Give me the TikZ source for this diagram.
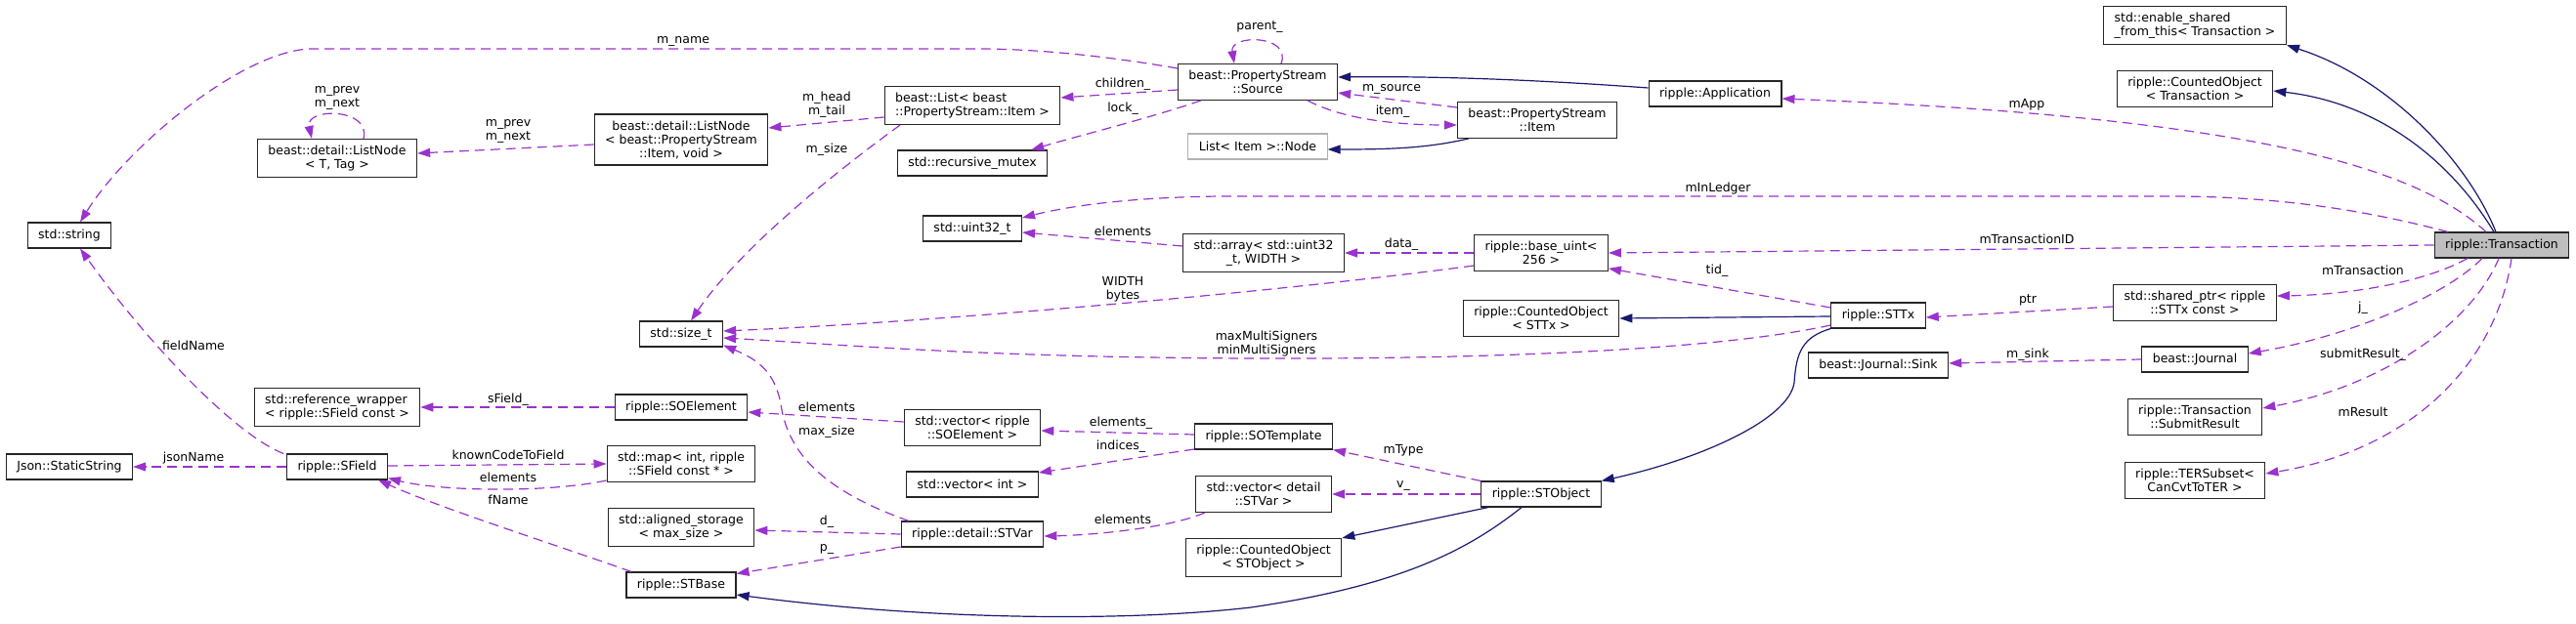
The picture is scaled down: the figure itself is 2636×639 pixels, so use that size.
\documentclass[tikz,border=0pt]{standalone}
\usepackage{fontspec}
\setmainfont{DejaVu Sans}
\usetikzlibrary{arrows.meta}

\definecolor{usecol}{HTML}{9A32CD}
\definecolor{isacol}{HTML}{191970}
\newcommand\dgfont{\fontsize{12.5}{14}\selectfont}

\tikzset{
  cls/.style={draw=black!85, line width=1.1pt, fill=white, font=\dgfont, align=center,
    inner xsep=11pt, inner ysep=6.5pt, minimum height=26pt},
  clsleft/.style={cls, align=left},
  clsext/.style={cls, draw=black!30},
  clsroot/.style={cls, fill=black!25},
  usage/.style={draw=usecol, line width=1.2pt, dash pattern=on 10pt off 6pt,
    -{Triangle[length=13pt,width=9pt]}},
  inherit/.style={draw=isacol, line width=1.2pt, -{Triangle[length=13pt,width=9pt]}},
  lbl/.style={font=\dgfont, align=center, inner sep=0pt},
}

\begin{document}
\begin{tikzpicture}[x=1pt,y=-1pt]
\useasboundingbox (0,0) rectangle (2636,639);

% classes
\node[clsroot] (tx) at (2560,251) {ripple::Transaction};
\node[clsleft] (esft) at (2246,26) {std::enable\_shared\\\_from\_this< Transaction >};
\node[cls] (cotx) at (2246,91) {ripple::CountedObject\\< Transaction >};
\node[cls] (app) at (1755,96) {ripple::Application};
\node[cls] (src) at (1287,84) {beast::PropertyStream\\::Source};
\node[cls] (pitem) at (1573,123) {beast::PropertyStream\\::Item};
\node[clsext] (lnode) at (1287,150) {List< Item >::Node};
\node[clsleft] (blist) at (995,108) {beast::List< beast\\::PropertyStream::Item >};
\node[cls] (rmutex) at (995,167) {std::recursive\_mutex};
\node[cls] (lnitem) at (697,143) {beast::detail::ListNode\\< beast::PropertyStream\\::Item, void >};
\node[cls] (lnT) at (345,162) {beast::detail::ListNode\\< T, Tag >};
\node[cls] (str) at (71,241) {std::string};
\node[cls] (u32) at (995,234) {std::uint32\_t};
\node[cls] (arr) at (1293,259) {std::array< std::uint32\\\_t, WIDTH >};
\node[cls] (buint) at (1577,259) {ripple::base\_uint<\\256 >};
\node[cls] (sizet) at (697,342) {std::size\_t};
\node[cls] (costtx) at (1577,326) {ripple::CountedObject\\< STTx >};
\node[cls] (sttx) at (1922,323) {ripple::STTx};
\node[cls] (shptr) at (2246,310) {std::shared\_ptr< ripple\\::STTx const >};
\node[cls] (sink) at (1922,374) {beast::Journal::Sink};
\node[cls] (journal) at (2246,368) {beast::Journal};
\node[cls] (subres) at (2246,427) {ripple::Transaction\\::SubmitResult};
\node[cls] (ter) at (2246,492) {ripple::TERSubset<\\CanCvtToTER >};
\node[clsleft] (refw) at (345,417) {std::reference\_wrapper\\< ripple::SField const >};
\node[cls] (jss) at (71,478) {Json::StaticString};
\node[cls] (sfield) at (345,478) {ripple::SField};
\node[cls] (soel) at (697,417) {ripple::SOElement};
\node[cls] (stdmap) at (697,475) {std::map< int, ripple\\::SField const * >};
\node[cls] (algstore) at (697,540) {std::aligned\_storage\\< max\_size >};
\node[cls] (stbase) at (697,599) {ripple::STBase};
\node[cls] (vecsoel) at (995,438) {std::vector< ripple\\::SOElement >};
\node[cls] (vecint) at (995,496) {std::vector< int >};
\node[cls] (stvar) at (995,547) {ripple::detail::STVar};
\node[cls] (sotmpl) at (1293,447) {ripple::SOTemplate};
\node[cls] (vecvar) at (1293,506) {std::vector< detail\\::STVar >};
\node[cls] (coobj) at (1293,571) {ripple::CountedObject\\< STObject >};
\node[cls] (stobj) at (1577,506) {ripple::STObject};

% inheritance
\draw[inherit] ([xshift=-6pt]tx.north) .. controls (2525,165) and (2445,80) .. (esft.south east);
\draw[inherit] ([xshift=-8pt]tx.north) .. controls (2505,160) and (2430,105) .. ([yshift=-2pt]cotx.east);
\draw[inherit] ([yshift=6pt]app.west) .. controls (1550,80) and (1450,78) .. ([yshift=5pt]src.east);
\draw[inherit] ([xshift=12pt]pitem.south west) .. controls (1460,152) and (1420,153) .. ([yshift=-3pt]lnode.east);
\draw[inherit] ([yshift=-1pt]sttx.west) -- (costtx.east);
\draw[inherit] (sttx.south west) .. controls (1845,345) and (1838,360) .. (1836,392)
  .. controls (1830,430) and (1740,470) .. (stobj.north east);
\draw[inherit] ([xshift=-54pt]stobj.south) -- (coobj.north east);
\draw[inherit] ([xshift=-20pt]stobj.south) .. controls (1500,565) and (1430,600) .. (1280,622)
  .. controls (1150,637) and (950,635) .. ([yshift=-10pt]stbase.east);

% members
\draw[usage] ([xshift=-16pt]tx.north) .. controls (2470,170) and (2300,120) .. ([yshift=-5pt]app.east);
\draw[usage] ([xshift=-55pt]tx.north) .. controls (2420,215) and (2330,201) .. (2220,201) -- (1250,201)
  .. controls (1150,202) and (1090,212) .. ([yshift=11pt]u32.east);
\draw[usage] (tx.west) -- (buint.east);
\draw[usage] ([xshift=-35pt]tx.south) .. controls (2480,290) and (2400,302) .. ([yshift=7pt]shptr.east);
\draw[usage] ([xshift=-20pt]tx.south) .. controls (2500,305) and (2400,345) .. ([yshift=6pt]journal.east);
\draw[usage] ([xshift=-3pt]tx.south) .. controls (2530,330) and (2440,395) .. ([yshift=9pt]subres.east);
\draw[usage] ([xshift=10pt]tx.south) .. controls (2555,370) and (2470,460) .. ([yshift=7pt]ter.east);
\draw[usage] ([yshift=-4pt]shptr.west) -- ([yshift=-2pt]sttx.east);
\draw[usage] (journal.west) -- ([yshift=2pt]sink.east);
\draw[usage] ([yshift=8pt]sttx.west) -- ([yshift=3pt]buint.south east);
\draw[usage] ([yshift=-10pt]sttx.west) .. controls (1750,360) and (1500,368) .. (1280,367)
  .. controls (1000,366) and (850,352) .. ([yshift=-4pt]sizet.east);
\draw[usage] (buint.west) -- (arr.east);
\draw[usage] ([yshift=-13pt]buint.west) .. controls (1300,300) and (950,330) .. ([yshift=3pt]sizet.east);
\draw[usage] ([yshift=7pt]arr.west) -- ([yshift=-4pt]u32.east);
\draw[usage] ([yshift=13pt]pitem.west) -- ([yshift=-11pt]src.east);
\draw[usage] ([xshift=51pt]src.south) .. controls (1370,120) and (1420,128) .. ([yshift=-5pt]pitem.west);
\draw[usage] ([xshift=24pt]src.north) .. controls (1322,35) and (1258,35) .. ([xshift=-24pt]src.north);
\draw[usage] ([yshift=14pt]src.west) .. controls (1130,57) and (1060,50) .. (1000,50) -- (320,50)
  .. controls (250,50) and (130,150) .. ([xshift=11pt]str.north);
\draw[usage] ([yshift=-8pt]src.west) -- ([yshift=8pt]blist.east);
\draw[usage] ([xshift=-58pt]src.south) .. controls (1180,120) and (1100,140) .. ([xshift=-17pt]rmutex.north east);
\draw[usage] ([yshift=-12pt]blist.west) -- ([yshift=12pt]lnitem.east);
\draw[usage] ([xshift=-74pt]blist.south) .. controls (870,165) and (760,250) .. ([xshift=10pt]sizet.north);
\draw[usage] ([yshift=-5pt]lnitem.west) -- ([yshift=5pt]lnT.east);
\draw[usage] ([xshift=27pt]lnT.north) .. controls (380,110) and (312,110) .. ([xshift=-26pt]lnT.north);
\draw[usage] ([xshift=-55pt]sfield.north) .. controls (240,445) and (150,350) .. ([xshift=11pt]str.south);
\draw[usage] (sfield.west) -- (jss.east);
\draw[usage] ([yshift=1pt]sfield.east) -- (stdmap.west);
\draw[usage] ([yshift=-17pt]stdmap.west) .. controls (560,505) and (450,503) .. ([yshift=2pt]sfield.south east);
\draw[usage] ([xshift=-51pt]stbase.north) .. controls (560,555) and (450,520) .. ([xshift=42pt]sfield.south);
\draw[usage] (soel.west) -- (refw.east);
\draw[usage] ([yshift=6pt]vecsoel.west) -- ([yshift=-5pt]soel.east);
\draw[usage] ([xshift=-65pt]stvar.north) .. controls (850,505) and (810,470) .. (800,420)
  .. controls (795,385) and (780,370) .. ([yshift=2pt]sizet.south east);
\draw[usage] ([yshift=2pt]sotmpl.west) -- ([yshift=-3pt]vecsoel.east);
\draw[usage] ([yshift=-13pt]sotmpl.west) -- ([yshift=12pt]vecint.east);
\draw[usage] (stobj.north west) -- (sotmpl.south east);
\draw[usage] (stobj.west) -- (vecvar.east);
\draw[usage] ([xshift=-60pt]vecvar.south) .. controls (1200,540) and (1120,548) .. ([yshift=-2pt]stvar.east);
\draw[usage] (stvar.west) -- ([yshift=-3pt]algstore.east);
\draw[usage] ([yshift=-13pt]stvar.west) -- ([yshift=-2pt]stbase.north east);

% member names
\node[lbl] (l-mname) at (699,42) {m\_name};
\node[lbl] (l-parent) at (1289,28) {parent\_};
\node[lbl] (l-children) at (1149,86) {children\_};
\node[lbl] (l-lock) at (1149,111) {lock\_};
\node[lbl] (l-headtail) at (846,107) {m\_head\\m\_tail};
\node[lbl] (l-msize) at (846,153) {m\_size};
\node[lbl] (l-prevloop) at (345,100) {m\_prev\\m\_next};
\node[lbl] (l-prevnext) at (520,134) {m\_prev\\m\_next};
\node[lbl] (l-msource) at (1424,91) {m\_source};
\node[lbl] (l-item) at (1425,114) {item\_};
\node[lbl] (l-mapp) at (2074,107) {mApp};
\node[lbl] (l-minledger) at (1758,193) {mInLedger};
\node[lbl] (l-elemarr) at (1149,237) {elements};
\node[lbl] (l-width) at (1149,296) {WIDTH\\bytes};
\node[lbl] (l-data) at (1434,250) {data\_};
\node[lbl] (l-mtxid) at (2074,245) {mTransactionID};
\node[lbl] (l-tid) at (1757,277) {tid\_};
\node[lbl] (l-mtx) at (2418,277) {mTransaction};
\node[lbl] (l-ptr) at (2075,307) {ptr};
\node[lbl] (l-multi) at (1296,352) {maxMultiSigners\\minMultiSigners};
\node[lbl] (l-j) at (2418,315) {j\_};
\node[lbl] (l-msink) at (2075,363) {m\_sink};
\node[lbl] (l-submit) at (2418,363) {submitResult\_};
\node[lbl] (l-mresult) at (2418,422) {mResult};
\node[lbl] (l-fieldname) at (198,354) {fieldName};
\node[lbl] (l-jsonname) at (198,469) {jsonName};
\node[lbl] (l-sfield) at (520,409) {sField\_};
\node[lbl] (l-known) at (520,466) {knownCodeToField};
\node[lbl] (l-elemmap) at (520,489) {elements};
\node[lbl] (l-fname) at (520,512) {fName};
\node[lbl] (l-elemsoel) at (846,417) {elements};
\node[lbl] (l-maxsize) at (846,442) {max\_size};
\node[lbl] (l-elemtmpl) at (1147,433) {elements\_};
\node[lbl] (l-indices) at (1147,457) {indices\_};
\node[lbl] (l-mtype) at (1436,461) {mType};
\node[lbl] (l-v) at (1436,498) {v\_};
\node[lbl] (l-elemvar) at (1149,532) {elements};
\node[lbl] (l-d) at (846,534) {d\_};
\node[lbl] (l-p) at (846,562) {p\_};
\end{tikzpicture}
\end{document}
